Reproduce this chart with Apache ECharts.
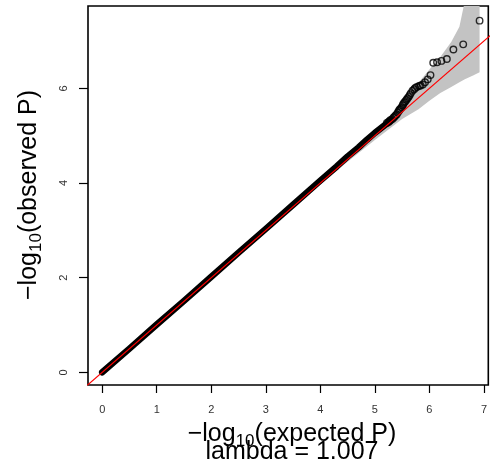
<!DOCTYPE html>
<html>
<head>
<meta charset="utf-8">
<script src="https://cdn.jsdelivr.net/npm/echarts@6/dist/echarts.min.js"></script>
<style>html,body{margin:0;padding:0;background:#fff;}#c{width:490px;height:465px;}</style>
</head>
<body>
<div id="c"></div>
<script>
// Tick labels
const xTicks = [0, 1, 2, 3, 4, 5, 6, 7];
const yTicks = [0, 2, 4, 6];

// Dense bulk of the QQ points (expected, observed) read along the black band
const bulkExpected = [0, 0.5, 1.0, 1.5, 2.0, 2.5, 3.0, 3.5, 4.0, 4.3, 4.5, 4.7, 4.85, 5.0, 5.1, 5.2, 5.3];
const bulkObserved = [0, 0.50, 1.01, 1.51, 2.02, 2.53, 3.03, 3.54, 4.05, 4.35, 4.56, 4.75, 4.91, 5.06, 5.15, 5.24, 5.33];

// Individual tail points (expected, observed)
const tailExpected = [6.92, 6.62, 6.44, 6.32, 6.22, 6.14, 6.07, 6.02, 5.97, 5.92, 5.88, 5.84, 5.81, 5.77, 5.74, 5.72, 5.69, 5.66, 5.64, 5.62, 5.60, 5.58, 5.56, 5.54, 5.52, 5.51, 5.49, 5.47, 5.45, 5.44, 5.42, 5.40, 5.38, 5.36, 5.34, 5.32, 5.29, 5.27, 5.25, 5.22];
const tailObserved = [7.43, 6.93, 6.82, 6.62, 6.58, 6.55, 6.54, 6.28, 6.19, 6.13, 6.08, 6.06, 6.05, 6.03, 6.01, 5.98, 5.95, 5.90, 5.86, 5.82, 5.79, 5.76, 5.73, 5.70, 5.67, 5.64, 5.60, 5.57, 5.55, 5.52, 5.49, 5.45, 5.43, 5.40, 5.38, 5.35, 5.33, 5.31, 5.29, 5.27];

// 95% confidence band (grey)
const ciX     = [4.0, 4.5, 5.0, 5.5, 5.8, 6.0, 6.2, 6.4, 6.55, 6.65, 6.8, 6.92];
const ciLower = [3.97, 4.45, 4.91, 5.35, 5.56, 5.74, 5.90, 6.03, 6.13, 6.19, 6.27, 6.34];
const ciUpper = [4.03, 4.55, 5.10, 5.69, 6.12, 6.40, 6.66, 6.98, 7.30, 7.85, 8.2, 8.5];

// Reference line y = x
const refLine = [[-0.5, -0.5], [7.5, 7.5]];
const lambdaText = 'lambda = 1.007';

const chart = echarts.init(document.getElementById('c'), null, {renderer: 'canvas'});
const FONT = 'Liberation Sans, Arial, Helvetica, sans-serif';

const option = {
  animation: false,
  backgroundColor: '#ffffff',
  grid: {left: 88, top: 6, right: -1, bottom: 80, show: true, borderColor: '#000', borderWidth: 1.6, backgroundColor: 'transparent'},
  xAxis: {
    type: 'value', min: -0.2605, max: 7.08,
    splitLine: {show: false},
    axisLine: {show: false, onZero: false},
    axisTick: {show: true, length: 8, customValues: xTicks, lineStyle: {color: '#000', width: 1.2}},
    axisLabel: {show: true, customValues: xTicks, margin: 19, fontSize: 11, color: '#333', fontFamily: FONT}
  },
  yAxis: {
    type: 'value', min: -0.268, max: 7.74,
    splitLine: {show: false},
    axisLine: {show: false, onZero: false},
    axisTick: {show: true, length: 9, customValues: yTicks, lineStyle: {color: '#000', width: 1.2}},
    axisLabel: {show: true, customValues: yTicks, rotate: 90, margin: 19, fontSize: 11, color: '#333', fontFamily: FONT}
  },
  graphic: [
    {type: 'text', x: 292, y: 434, style: {text: '{a|−log}{s|10}{a|(expected P)}', align: 'center', verticalAlign: 'middle',
      rich: {a: {fontSize: 25, fontFamily: FONT, fill: '#000'}, s: {fontSize: 17, fontFamily: FONT, fill: '#000', padding: [14, 0, 0, 0]}}}},
    {type: 'text', x: 292, y: 452, style: {text: lambdaText, align: 'center', verticalAlign: 'middle', fontSize: 25, fontFamily: FONT, fill: '#000'}},
    {type: 'text', x: 29, y: 195, rotation: Math.PI / 2, style: {text: '{a|−log}{s|10}{a|(observed P)}', align: 'center', verticalAlign: 'middle',
      rich: {a: {fontSize: 25, fontFamily: FONT, fill: '#000'}, s: {fontSize: 17, fontFamily: FONT, fill: '#000', padding: [14, 0, 0, 0]}}}}
  ],
  series: [
    {
      type: 'custom', clip: true, z: 1, silent: true,
      data: [[0, 0]],
      renderItem: function (params, api) {
        const lo = ciX.map((x, i) => api.coord([x, ciLower[i]]));
        const up = ciX.map((x, i) => api.coord([x, ciUpper[i]])).reverse();
        return {type: 'polygon', shape: {points: lo.concat(up)}, style: {fill: '#c3c3c3', stroke: null}};
      }
    },
    {
      type: 'line', z: 2, silent: true, symbol: 'none',
      data: bulkExpected.map((x, i) => [x, bulkObserved[i]]),
      lineStyle: {color: '#000', width: 6.5, cap: 'round', join: 'round'}
    },
    {
      type: 'scatter', z: 3, silent: true, symbol: 'circle', symbolSize: 6.5,
      data: tailExpected.map((x, i) => [x, tailObserved[i]]),
      itemStyle: {color: 'transparent', borderColor: '#000', borderWidth: 1.4}
    },
    {
      type: 'line', z: 4, silent: true, symbol: 'none', clip: true,
      data: refLine,
      lineStyle: {color: '#ff0000', width: 1.2}
    }
  ]
};
chart.setOption(option);
</script>
</body>
</html>
